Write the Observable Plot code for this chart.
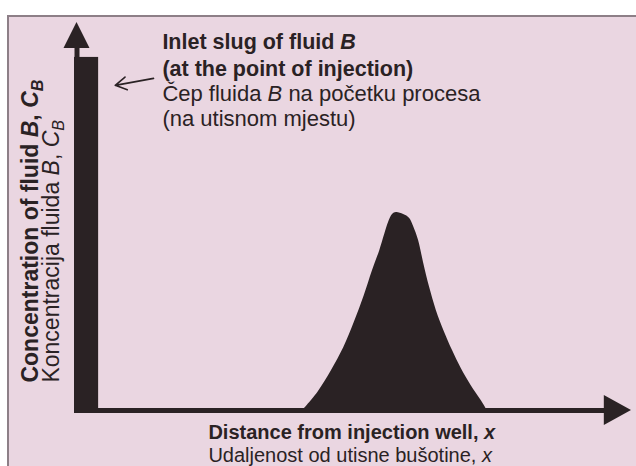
<!DOCTYPE html>
<html><head><meta charset="utf-8">
<script src="https://cdn.jsdelivr.net/npm/d3@7"></script>
<script src="https://cdn.jsdelivr.net/npm/@observablehq/plot@0.6"></script>
<style>
html,body{margin:0;padding:0;background:#fff;}
#wrap{position:relative;width:636px;height:466px;overflow:hidden;}
#panel{position:absolute;left:7px;top:15px;width:629px;height:451px;background:#ead6e1;border-left:2px solid #8d7f87;border-top:2px solid #8d7f87;box-sizing:border-box;}
#wrap svg{position:absolute;left:0;top:0;}
</style></head><body><div id="wrap"><div id="panel"></div></div>
<script>
// ---- data (distance in % of axis length, concentration in % of axis height) ----
const distance = [40.7, 43.4, 45.9, 48.1, 50.0, 51.8, 53.3, 54.6, 55.5, 56.2, 56.9, 57.6, 58.9, 60.0, 60.7, 61.6, 62.5, 63.6, 64.8, 66.3, 67.7, 69.3, 71.1, 72.8, 74.0];
const concentration = [0, 4.6, 10.3, 16.2, 22.7, 29.6, 36.1, 41.2, 45.4, 48.5, 50.5, 51.0, 50.5, 49.5, 47.4, 43.8, 38.1, 31.7, 25.8, 20.1, 15.5, 10.8, 6.4, 2.8, 0];
const slugDistance = [0];
const slugConcentration = [91];

const noteLines = ["Inlet slug of fluid {i:B}", "(at the point of injection)", "Čep fluida {i:B} na početku procesa", "(na utisnom mjestu)"];
const xTitle = ["Distance from injection well, {i:x}", "Udaljenost od utisne bušotine, {i:x}"];
const yTitle = ["Concentration of fluid {i:B}, {i:C}{s:B}", "Koncentracija fluida {i:B}, {i:C}{s:B}"];

const ink = "#2a2224";
const font = "'Liberation Sans', Arial, Helvetica, sans-serif";

const chart = Plot.plot({
  width: 636, height: 466, margin: 0,
  x: {domain: [0, 100], range: [76.5, 631], axis: null},
  y: {domain: [0, 100], range: [410, 22], axis: null},
  style: {background: "transparent", fontFamily: font, color: ink},
  marks: [
    Plot.areaY(distance, {x: distance, y: concentration, curve: "catmull-rom", fill: ink}),
    Plot.rect(slugDistance, {x1: -0.45, x2: 3.9, y1: -0.6, y2: slugConcentration, fill: ink}),
    Plot.ruleX([0], {y1: -0.64, y2: 93.6, stroke: ink, strokeWidth: 5}),
    Plot.ruleY([0], {x1: -0.45, x2: 95.3, stroke: ink, strokeWidth: 5}),
    Plot.areaX([{y: 93.3, a: -2.34, b: 2.34}, {y: 100, a: 0, b: 0}], {y: "y", x1: "a", x2: "b", fill: ink}),
    Plot.areaY([{x: 95.1, a: -3.87, b: 3.87}, {x: 100, a: 0, b: 0}], {x: "x", y1: "a", y2: "b", fill: ink}),
    Plot.arrow([0], {x1: 13.8, y1: 85.6, x2: 6.9, y2: 83.8, stroke: ink, strokeWidth: 1.6, headLength: 12}),
    Plot.text([noteLines[0]], {x: 15.4, y: 95.0, text: d => d, textAnchor: "start", fontWeight: "bold", fontSize: 21.5, fill: ink}),
    Plot.text([noteLines[1]], {x: 15.4, y: 88.0, text: d => d, textAnchor: "start", fontWeight: "bold", fontSize: 21.5, fill: ink}),
    Plot.text([noteLines[2]], {x: 15.4, y: 81.6, text: d => d, textAnchor: "start", fontSize: 22, fill: ink}),
    Plot.text([noteLines[3]], {x: 15.4, y: 75.2, text: d => d, textAnchor: "start", fontSize: 22, fill: ink}),
    Plot.text([xTitle[0]], {x: 23.7, y: -5.8, text: d => d, textAnchor: "start", fontWeight: "bold", fontSize: 20, fill: ink}),
    Plot.text([xTitle[1]], {x: 23.7, y: -11.75, text: d => d, textAnchor: "start", fontSize: 20, fill: ink}),
    Plot.text([yTitle[0]], {x: -8.4, y: 7.2, text: d => d, rotate: -90, textAnchor: "start", fontWeight: "bold", fontSize: 23, fill: ink}),
    Plot.text([yTitle[1]], {x: -4.6, y: 7.2, text: d => d, rotate: -90, textAnchor: "start", fontSize: 23, fill: ink})
  ]
});

// rich text: {i:..} italic, {s:..} italic subscript
chart.querySelectorAll("text").forEach(t => {
  const s = t.textContent;
  if (!s.includes("{")) return;
  t.textContent = "";
  const parts = s.split(/(\{[is]:[^}]+\})/).filter(p => p.length);
  const ns = "http://www.w3.org/2000/svg";
  parts.forEach(p => {
    const ts = document.createElementNS(ns, "tspan");
    const m = p.match(/^\{([is]):([^}]+)\}$/);
    if (m) {
      ts.textContent = m[2];
      ts.setAttribute("font-style", "italic");
      if (m[1] === "s") { ts.setAttribute("font-size", "0.7em"); ts.setAttribute("dy", "0.35em"); }
    } else ts.textContent = p;
    t.appendChild(ts);
  });
});

document.getElementById("wrap").appendChild(chart);
</script></body></html>
